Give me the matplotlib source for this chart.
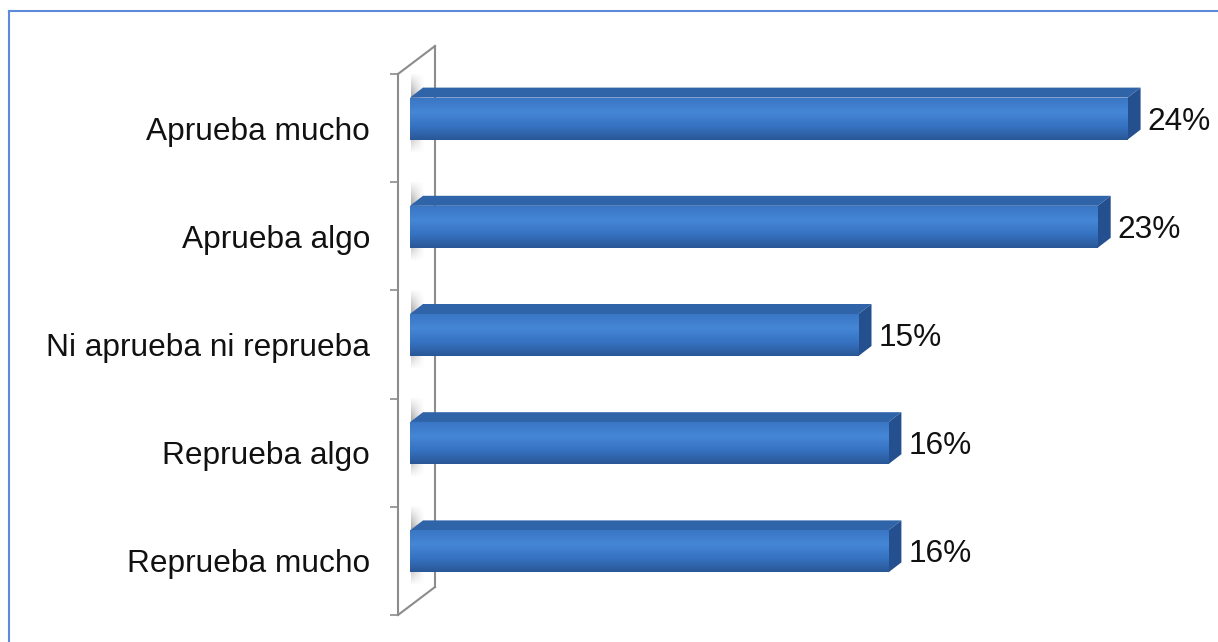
import numpy as np
import matplotlib
matplotlib.use("Agg")
from matplotlib import pyplot as plt
from matplotlib.patches import Polygon, Rectangle
from matplotlib.lines import Line2D

categories = ["Aprueba mucho", "Aprueba algo", "Ni aprueba ni reprueba",
              "Reprueba algo", "Reprueba mucho"]
values = [24, 23, 15, 16, 16]
value_labels = ["24%", "23%", "15%", "16%", "16%"]

plt.rcParams['font.family'] = ['Liberation Sans', 'DejaVu Sans']

W, H = 1218, 642
fig = plt.figure(figsize=(W / 100, H / 100), dpi=100)

# axes placed in pixels: front of wall at x=398, slots from y=74 to 615 (from top)
ax_left, ax_right = 398, 1145.5
ax_top, ax_bot = 74, 615
ax = fig.add_axes([ax_left / W, (H - ax_bot) / H,
                   (ax_right - ax_left) / W, (ax_bot - ax_top) / H])
xmax = 25
n = len(categories)
ax.set_xlim(0, xmax)
ax.set_ylim(-0.5, n - 0.5)

ppx = (ax_right - ax_left) / xmax      # pixels per percent
ppy = (ax_bot - ax_top) / n            # pixels per category

def px_x(p):
    return p / ppx

def px_y(p):
    return p / ppy

# wall depth (pixels)
wdx, wdy = 37, 28
wall_col = "#8c8c8c"
y0, y1 = -0.5, n - 0.5
wall_lines = [
    ([0, 0], [y0, y1]),
    ([px_x(wdx)] * 2, [y0 + px_y(wdy), y1 + px_y(wdy)]),
    ([0, px_x(wdx)], [y1, y1 + px_y(wdy)]),
    ([0, px_x(wdx)], [y0, y0 + px_y(wdy)]),
]
for xs, ys in wall_lines:
    ax.add_line(Line2D(xs, ys, color=wall_col, lw=1.5, zorder=1, clip_on=False))

# bars: front face at 1/3 of wall depth
ypos = np.arange(n)[::-1]
fdx, fdy = 12, 9.5
bdx, bdy = 13, 10
bar_h = px_y(42)
grad = np.linspace(0, 1, 64).reshape(-1, 1)
cmap = matplotlib.colors.LinearSegmentedColormap.from_list(
    "bar", ["#2a5797", "#3673c2", "#4586d6", "#3a76c4"])

# gray shadow streak on the wall behind each bar
shadow = np.zeros((40, 32, 4))
shadow[..., :3] = 0.5
fade_x = np.linspace(0.75, 0.0, 32) ** 1.2
t = np.linspace(0, 1, 40)
fade_y = np.clip(np.minimum(t, 1 - t) / 0.3, 0, 1)
shadow[..., 3] = fade_y[:, None] * fade_x[None, :]

for yc, v, lab in zip(ypos, values, value_labels):
    x0 = px_x(fdx)
    x1 = x0 + v
    yb = yc + px_y(fdy) - bar_h / 2
    yt = yb + bar_h
    ax.imshow(shadow, aspect="auto", origin="lower", zorder=1.5,
              extent=(px_x(13), px_x(27), yb - px_y(14), yt + px_y(26)))
    # front face with vertical gradient
    face = Rectangle((x0, yb), v, bar_h, facecolor="none", edgecolor="none", zorder=3)
    ax.add_patch(face)
    im = ax.imshow(grad, cmap=cmap, aspect="auto", extent=(x0, x1, yb, yt),
                   origin="lower", zorder=3)
    im.set_clip_path(face)
    # top face
    top = Polygon([(x0, yt), (x1, yt), (x1 + px_x(bdx), yt + px_y(bdy)),
                   (x0 + px_x(bdx), yt + px_y(bdy))],
                  facecolor="#3064a8", edgecolor="none", zorder=2.5)
    ax.add_patch(top)
    # side face
    side = Polygon([(x1, yb), (x1 + px_x(bdx), yb + px_y(bdy)),
                    (x1 + px_x(bdx), yt + px_y(bdy)), (x1, yt)],
                   facecolor="#24508f", edgecolor="none", zorder=2.5)
    ax.add_patch(side)
    ax.text(x1 + px_x(bdx + 7), yc + px_y(fdy - 3), lab, ha="left", va="center",
            fontsize=22.8, color="#111111")

ax.set_xlim(0, xmax)
ax.set_ylim(-0.5, n - 0.5)
ax.set_yticks(ypos)
ax.set_yticklabels(categories, fontsize=22.8, color="#111111")
ax.tick_params(axis="y", which="major", length=0, pad=20)
ax.set_yticks(np.arange(-0.5, n, 1), minor=True)
ax.tick_params(axis="y", which="minor", length=6, width=1.2, color=wall_col,
               direction="out")
ax.set_xticks([])
for s in ax.spines.values():
    s.set_visible(False)
ax.set_facecolor("none")

# figure border (top and left)
fig.add_artist(Line2D([8.5 / W, 8.5 / W], [0, 1 - 10.5 / H], color="#5b8bd9",
                      lw=1.5, transform=fig.transFigure))
fig.add_artist(Line2D([8.5 / W, 1], [1 - 10.5 / H, 1 - 10.5 / H], color="#5b8bd9",
                      lw=1.5, transform=fig.transFigure))

fig.savefig("out.png", dpi=100)
